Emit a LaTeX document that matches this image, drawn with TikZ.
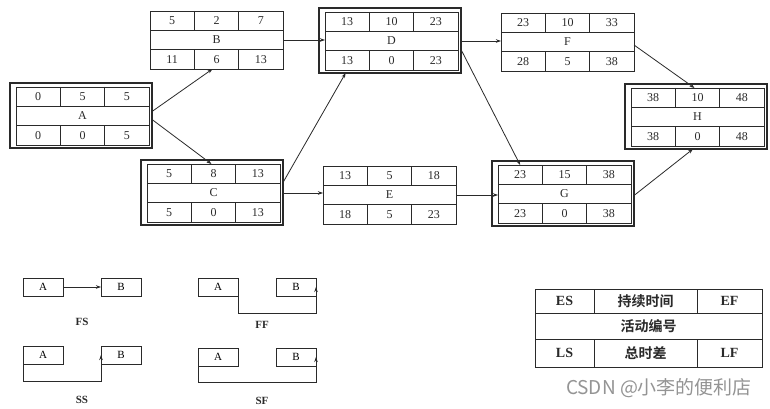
\documentclass[tikz,border=0pt]{standalone}
\usepackage{fontspec}
\setmainfont{Liberation Serif}
\newfontfamily\cjk[BoldFont={Noto Sans CJK SC Bold}]{Noto Sans CJK SC}
\usetikzlibrary{arrows.meta}
\definecolor{ink}{HTML}{2A2A2A}
\tikzset{
  actbox/.style={draw=ink, line width=0.9pt, rectangle, minimum width=133pt, minimum height=58pt, inner sep=0pt, outer sep=0pt, anchor=north west},
  critframe/.style={draw=ink, line width=2.4pt, rectangle, minimum width=142pt, minimum height=65pt, inner sep=0pt, outer sep=0pt, anchor=north west},
  cell/.style={font=\fontsize{12}{12}\selectfont, inner sep=0pt, text=ink},
  grid/.style={draw=ink, line width=0.8pt},
  conn/.style={draw=ink, line width=0.8pt},
  arr/.style={conn, -{Stealth[length=5pt,width=3.5pt]}},
  smallbox/.style={draw=ink, line width=0.9pt, rectangle, minimum width=40pt, minimum height=18pt, inner sep=0pt, outer sep=0pt, anchor=north west, font=\fontsize{11}{11}\selectfont},
  rel/.style={font=\fontsize{11}{11}\selectfont\bfseries, inner sep=0pt, text=ink},
  legtext/.style={font=\fontsize{14}{14}\selectfont\bfseries, inner sep=0pt, text=ink},
}
% name, position (north west), ES, D, EF, label, LS, TF, LF
\newcommand\actnode[9]{%
  \node[actbox] (#1) at (#2) {};
  \draw[grid] ([yshift=-19.33pt]#1.north west) -- ([yshift=-19.33pt]#1.north east);
  \draw[grid] ([yshift=19.33pt]#1.south west) -- ([yshift=19.33pt]#1.south east);
  \draw[grid] ([xshift=44.33pt]#1.north west) -- ([xshift=44.33pt,yshift=-19.33pt]#1.north west);
  \draw[grid] ([xshift=88.67pt]#1.north west) -- ([xshift=88.67pt,yshift=-19.33pt]#1.north west);
  \draw[grid] ([xshift=44.33pt]#1.south west) -- ([xshift=44.33pt,yshift=19.33pt]#1.south west);
  \draw[grid] ([xshift=88.67pt]#1.south west) -- ([xshift=88.67pt,yshift=19.33pt]#1.south west);
  \node[cell] (#1-es) at ([xshift=22.17pt,yshift=-9.67pt]#1.north west) {#3};
  \node[cell] (#1-d)  at ([yshift=-9.67pt]#1.north) {#4};
  \node[cell] (#1-ef) at ([xshift=-22.17pt,yshift=-9.67pt]#1.north east) {#5};
  \node[cell] (#1-name) at (#1.center) {#6};
  \node[cell] (#1-ls) at ([xshift=22.17pt,yshift=9.67pt]#1.south west) {#7};
  \node[cell] (#1-tf) at ([yshift=9.67pt]#1.south) {#8};
  \node[cell] (#1-lf) at ([xshift=-22.17pt,yshift=9.67pt]#1.south east) {#9};
}
\newcommand\critical[1]{%
  \node[critframe] (#1f) at ([xshift=-6pt,yshift=4pt]#1.north west) {};
}
\begin{document}
\begin{tikzpicture}[x=1pt,y=-1pt]
\useasboundingbox[fill=white] (0,0) rectangle (770,409);

\actnode{A}{16,87}{0}{5}{5}{A}{0}{0}{5}
\actnode{B}{150,11}{5}{2}{7}{B}{11}{6}{13}
\actnode{C}{147,164}{5}{8}{13}{C}{5}{0}{13}
\actnode{D}{325,12}{13}{10}{23}{D}{13}{0}{23}
\actnode{E}{323,166}{13}{5}{18}{E}{18}{5}{23}
\actnode{F}{501,13}{23}{10}{33}{F}{28}{5}{38}
\actnode{G}{498,165}{23}{15}{38}{G}{23}{0}{38}
\actnode{H}{631,88}{38}{10}{48}{H}{38}{0}{48}
\critical{A}
\critical{C}
\critical{D}
\critical{G}
\critical{H}

% connectors
\draw[arr] ([yshift=4pt]Af.east) -- ([xshift=-4pt]B.south);
\draw[arr] ([yshift=-4pt]Af.east) -- ([xshift=-2pt]C.north);
\draw[arr] (B.east) -- (B.east -| D.west);
\draw[arr] ([yshift=10pt]Cf.east) -- ([xshift=-44.33pt]Df.south);
\draw[arr] (Cf.east |- C.east) -- (C.east -| E.west);
\draw[arr] (Df.east |- D.east) -- (D.east -| F.west);
\draw[arr] ([yshift=-9pt]Df.east) -- ([xshift=-44.33pt]G.north);
\draw[arr] (E.east) -- (E.east -| G.west);
\draw[arr] ([yshift=-3pt]F.east) -- ([xshift=-3pt]H.north);
\draw[arr] ([yshift=-2pt]Gf.east) -- ([xshift=-3pt]Hf.south);

% relation legend
\node[smallbox] (fsA) at (23,278) {A};
\node[smallbox] (fsB) at (101,278) {B};
\draw[arr] (fsA.east) -- (fsB.west);
\node[rel] (fs) at (82,322) {FS};

\node[smallbox] (ssA) at (23,346) {A};
\node[smallbox] (ssB) at (101,346) {B};
\draw[arr] (ssA.west) -- ++(0,26) -| (ssB.west);
\node[rel] (ss) at (82,400) {SS};

\node[smallbox] (ffA) at (198,278) {A};
\node[smallbox] (ffB) at (276,278) {B};
\draw[arr] (ffA.south east) -- ++(0,17) -| (ffB.east);
\node[rel] (ff) at (262,325) {FF};

\node[smallbox] (sfA) at (198,348) {A};
\node[smallbox] (sfB) at (276,348) {B};
\draw[arr] (sfA.west) -- ++(0,25) -| (sfB.east);
\node[rel] (sf) at (262,401) {SF};

% key table
\node[draw=ink, line width=1pt, rectangle, minimum width=227pt, minimum height=78pt, inner sep=0pt, anchor=north west] (key) at (535,289) {};
\draw[grid] (535,313) -- (762,313);
\draw[grid] (535,339) -- (762,339);
\draw[grid] (594,289) -- (594,313);
\draw[grid] (697,289) -- (697,313);
\draw[grid] (594,339) -- (594,367);
\draw[grid] (697,339) -- (697,367);
\node[legtext] (k-es) at (564.5,301) {ES};
\node[legtext] (k-d) at (645.5,301) {\cjk\bfseries 持续时间};
\node[legtext] (k-ef) at (729.5,301) {EF};
\node[legtext] (k-n) at (648.5,326) {\cjk\bfseries 活动编号};
\node[legtext] (k-ls) at (564.5,353) {LS};
\node[legtext] (k-tf) at (645.5,353) {\cjk\bfseries 总时差};
\node[legtext] (k-lf) at (729.5,353) {LF};

\node[font=\cjk\fontsize{19}{19}\selectfont, text=black!42, inner sep=0pt] (wm) at (659,388) {CSDN @小李的便利店};
\end{tikzpicture}
\end{document}
